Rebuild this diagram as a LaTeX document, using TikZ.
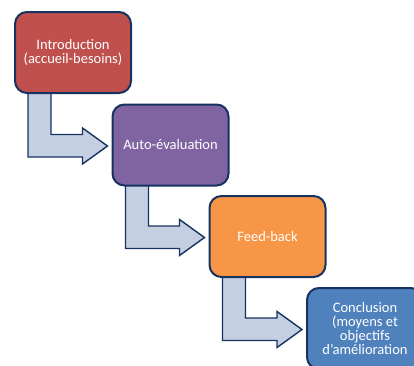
\documentclass[tikz,border=0pt]{standalone}
\usepackage{fontspec}
\setmainfont{Carlito}
\definecolor{BorderColor}{RGB}{22,50,96}
\definecolor{ArrowFill}{RGB}{197,207,226}
\definecolor{IntroRed}{RGB}{192,80,77}
\definecolor{EvalPurple}{RGB}{128,100,162}
\definecolor{FeedOrange}{RGB}{247,150,70}
\definecolor{ConclBlue}{RGB}{79,129,189}
\usetikzlibrary{calc, backgrounds}
\tikzset{
  stepbox/.style = {draw=BorderColor, line width=2pt, rounded corners=12pt,
    minimum width=116pt, minimum height=81pt, text=white, align=center,
    font=\fontsize{14.5}{14.5}\selectfont},
  flowarrow/.style = {draw=BorderColor, line width=1.4pt, fill=ArrowFill, line join=miter}
}
% bent block arrow from the bottom of #1 to the left side of #2
\newcommand{\bentarrow}[2]{%
  \draw[flowarrow] ($(#1.south west)+(14,-3)$) coordinate (p) -- ++(23,0)
    |- ($(#2.west)+(-29,-10.5)$) -- ($(#2.west)+(-29,-17)$)
    -- ($(#2.west)+(-4,1)$) -- ($(#2.west)+(-29,19)$)
    -- ($(#2.west)+(-29,12)$) -| (p) -- cycle;
}

\begin{document}
\begin{tikzpicture}[x=1pt, y=-1pt]
    \useasboundingbox (0,0) rectangle (414,365);
    \clip (0,0) rectangle (414,365);

    \node[stepbox, fill=IntroRed] (intro) at (73,52.5) {Introduction\\(accueil-besoins)};
    \node[stepbox, fill=EvalPurple] (autoeval) at (170.5,145) {Auto-évaluation};
    \node[stepbox, fill=FeedOrange] (feedback) at (267.5,236.5) {Feed-back};
    \node[stepbox, fill=ConclBlue, font=\fontsize{14.5}{13.8}\selectfont] (conclusion) at (365,328.5)
        {Conclusion\\(moyens et\\objectifs\\d’amélioration};

    \begin{scope}[on background layer]
        \bentarrow{intro}{autoeval}
        \bentarrow{autoeval}{feedback}
        \bentarrow{feedback}{conclusion}
    \end{scope}
\end{tikzpicture}
\end{document}
